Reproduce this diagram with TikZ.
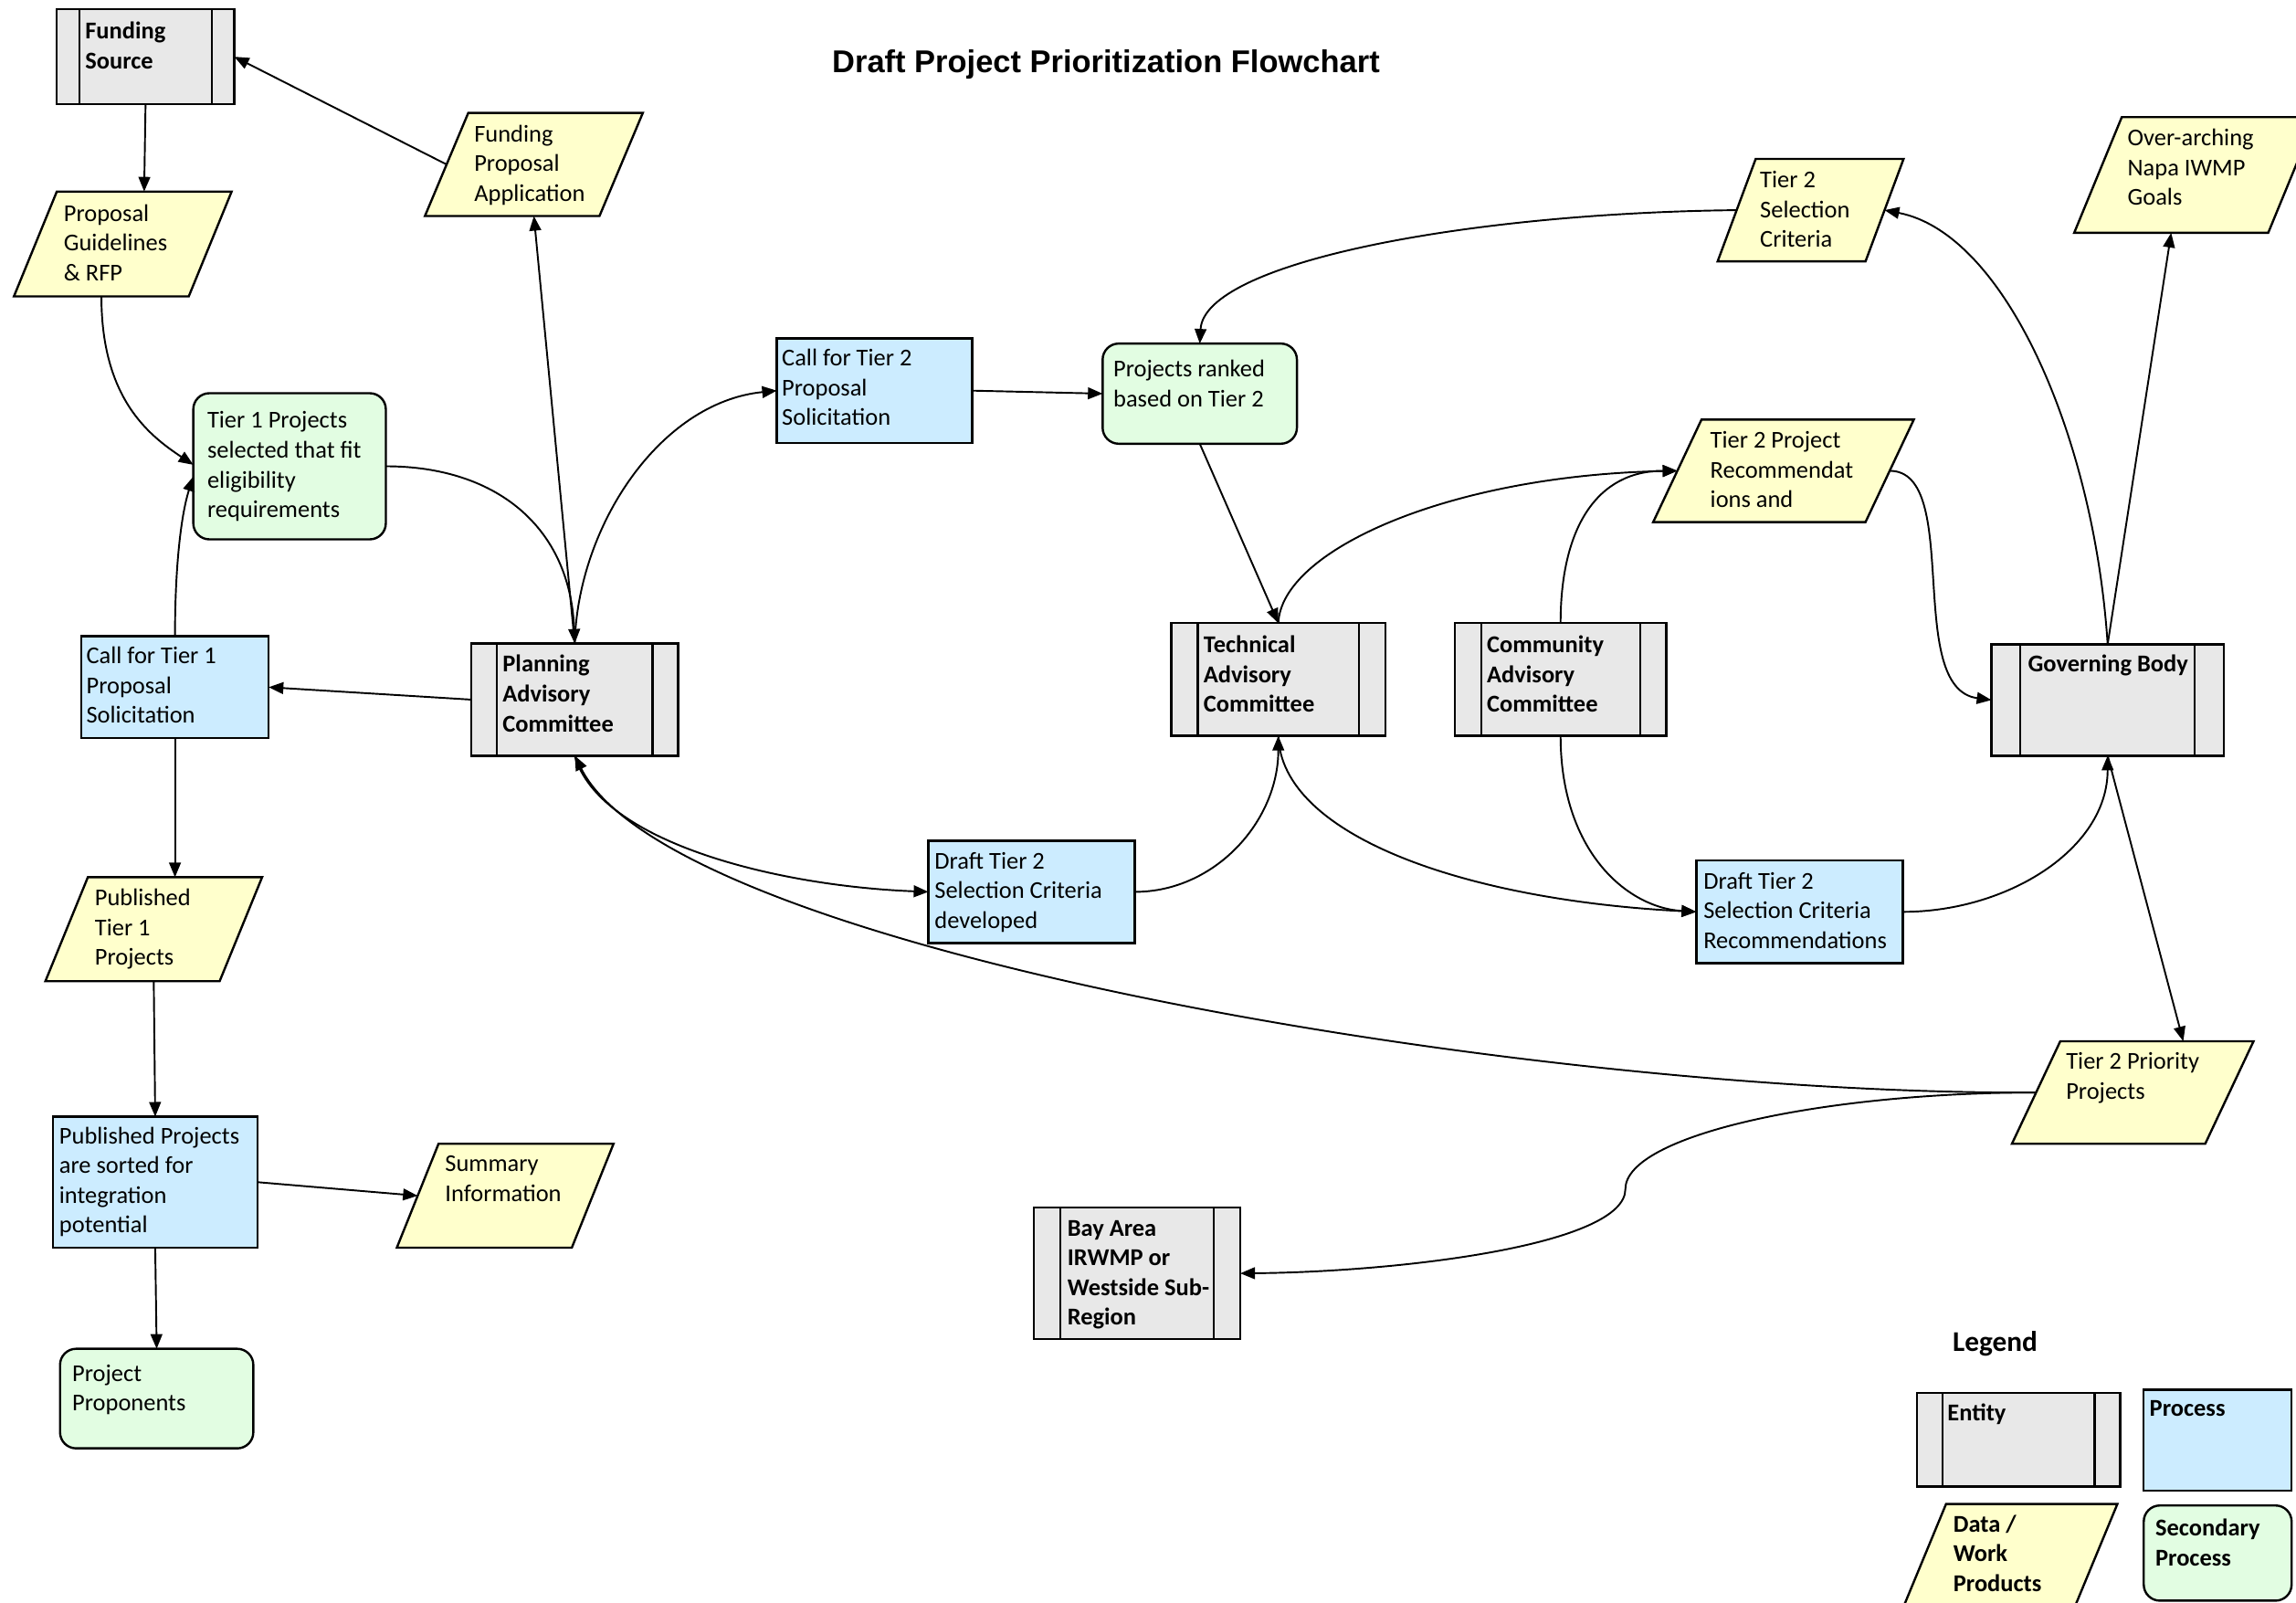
\documentclass[tikz,border=0pt]{standalone}
\usepackage{fontspec}
\setmainfont{Carlito}
\newfontfamily\titlefont{Liberation Sans}
\usetikzlibrary{arrows.meta}
\definecolor{entfill}{RGB}{232,232,232}
\definecolor{procfill}{RGB}{204,236,255}
\definecolor{secfill}{RGB}{226,253,226}
\definecolor{datafill}{RGB}{255,255,204}
% W, H, left pad, first-baseline offset, text
\newcommand\boxtxt[5]{\begin{minipage}[c][#2pt][t]{#1pt}\raggedright\leftskip=#3pt\relax\rule{0pt}{#4pt}#5\end{minipage}}
% name, x, y, W, H, slant, pad, baseline, text
\newcommand\datanode[9]{%
  \draw[datashape] ({#2+#6},#3) -- ({#2+#4},#3) -- ({#2+#4-#6},{#3+#5}) -- (#2,{#3+#5}) -- cycle;
  \node[txtnode] (#1) at (#2,#3) {\boxtxt{#4}{#5}{#7}{#8}{#9}};}
\begin{document}
\begin{tikzpicture}[x=1pt,y=-1pt,
  font=\fontsize{16.5pt}{20.3pt}\selectfont,
  base/.style={inner sep=0pt, outer sep=0pt, anchor=north west},
  entity/.style={base, draw, fill=entfill, line width=1.5pt,
    path picture={\draw[line width=1.5pt]
      ([xshift=#1pt]path picture bounding box.north west) -- ([xshift=#1pt]path picture bounding box.south west)
      ([xshift=-#1pt]path picture bounding box.north east) -- ([xshift=-#1pt]path picture bounding box.south east);}},
  process/.style={base, draw, fill=procfill, line width=1.5pt},
  secondary/.style={base, draw, fill=secfill, line width=1.5pt, rounded corners=11pt},
  datashape/.style={draw, fill=datafill, line width=1.5pt},
  txtnode/.style={base},
  conn/.style={line width=1.2pt, -{Triangle[length=10pt,width=8pt]}}
]
\path[fill=white, use as bounding box] (0,0) rectangle (1568,1094);

% title
\node[anchor=base] (title) at (755.3,49.6) {\titlefont\fontsize{21.5pt}{26pt}\selectfont\bfseries Draft Project Prioritization Flowchart};

% left column
\node[entity=15.3] (fs) at (38.8,6.4) {\boxtxt{121.2}{64.7}{19.4}{20.3}{\bfseries Funding\\Source}};
\datanode{pg}{9.5}{130.8}{148.7}{71.6}{29.3}{34.1}{20.2}{Proposal\\Guidelines\\\& RFP}
\datanode{fpa}{290.2}{77.1}{148.8}{70.4}{29.6}{33.7}{19.6}{Funding\\Proposal\\Application}
\node[secondary] (t1) at (132,268.5) {\boxtxt{131.5}{99.8}{9.6}{24}{Tier 1 Projects\\selected that fit\\eligibility\\requirements}};
\node[process] (ct1) at (55.5,434.5) {\boxtxt{128}{69.5}{3.5}{18.7}{Call for Tier 1\\Proposal\\Solicitation}};
\node[entity=17.3] (pac) at (322,439.5) {\boxtxt{141}{76.5}{21.3}{19.5}{\bfseries Planning\\Advisory\\Committee}};
\datanode{pt1}{31}{599}{148}{71}{29}{33.8}{19.4}{Published\\Tier 1\\Projects}
\node[process] (pp) at (36,762.5) {\boxtxt{140}{89.5}{4.5}{18.5}{Published Projects\\are sorted for\\integration\\potential}};
\datanode{sum}{271}{781}{148}{71}{28.5}{33}{19}{Summary\\Information}
\node[secondary] (ppr) at (41,921) {\boxtxt{132}{68}{8.4}{22.3}{Project\\Proponents}};

% middle
\node[process] (ct2) at (530.5,231) {\boxtxt{133.5}{71.5}{3.5}{19}{Call for Tier 2\\Proposal\\Solicitation}};
\node[secondary] (pr) at (753,234.6) {\boxtxt{132.7}{68.4}{7.4}{22.7}{Projects ranked\\based on Tier 2}};
\node[process] (dt2d) at (634,574) {\boxtxt{141}{70}{4.3}{19.4}{Draft Tier 2\\Selection Criteria\\developed}};
\node[entity=18] (tac) at (800,425.5) {\boxtxt{146}{77}{22}{20.3}{\bfseries Technical\\Advisory\\Committee}};
\node[entity=18] (cac) at (993.5,425.5) {\boxtxt{144.5}{77}{22}{20.3}{\bfseries Community\\Advisory\\Committee}};
\node[entity=18] (bay) at (706,824.5) {\boxtxt{141}{90}{23}{19.5}{\bfseries Bay Area\\IRWMP or\\Westside Sub-\\Region}};

% right
\datanode{t2sc}{1173}{108.5}{127}{70}{26}{29}{19.7}{Tier 2\\Selection\\Criteria}
\datanode{t2pr}{1129}{286.5}{178}{70}{33}{39}{19.5}{Tier 2 Project\\Recommendat\\ions and}
\datanode{over}{1416.5}{80}{165}{79}{32.5}{36.5}{19.5}{Over-arching\\Napa IWMP\\Goals}
\node[entity=19.8] (gb) at (1360,440) {\boxtxt{158.7}{76}{25}{19}{\bfseries Governing Body}};
\node[process] (dt2r) at (1158.4,587.5) {\boxtxt{141.2}{70.3}{5}{19.5}{Draft Tier 2\\Selection Criteria\\Recommendations}};
\datanode{t2pp}{1374}{711}{165}{70}{33}{37}{19.3}{Tier 2 Priority\\Projects}

% legend
\node[anchor=base west] (legend) at (1330,923) {\fontsize{19.5pt}{23pt}\selectfont\bfseries Legend};
\node[entity=17.6] (lent) at (1309,951) {\boxtxt{139}{64}{21}{19}{\bfseries Entity}};
\node[process] (lproc) at (1464,949) {\boxtxt{101}{69}{4}{18}{\bfseries Process}};
\datanode{ldata}{1300}{1027}{146}{70}{29}{34}{19}{\bfseries Data /\\Work\\Products}
\node[secondary] (lsec) at (1464,1028) {\boxtxt{101}{65}{8}{21}{\bfseries Secondary\\Process}};

% connectors
\draw[conn] (fs.south) -- ([xshift=14.6pt]pg.north);
\draw[conn] ([xshift=14.8pt]fpa.west) -- (fs.east);
\draw[conn] ([xshift=-14.6pt]pg.south) .. controls +(0,70) and +(-30,-20) .. ([yshift=1pt]t1.west);
\draw[conn] (ct1.north) .. controls +(0,-50) and +(-8,25) .. ([yshift=-7pt]t1.west);
\draw[conn] (t1.east) .. controls +(75,0) and +(-3,-80) .. (pac.north);
\draw[conn] (pac.north) -- (fpa.south);
\draw[conn] (pac.north) .. controls +(2,-80) and +(-80,8) .. (ct2.west);
\draw[conn] (ct2.east) -- (pr.west);
\draw[conn] (pr.south) -- (tac.north);
\draw[conn] ([xshift=13pt]t2sc.west) .. controls +(-186,2) and +(3,-55) .. (pr.north);
\draw[conn] (gb.north) .. controls +(-9,-140) and +(83,16) .. ([xshift=-13pt]t2sc.east);
\draw[conn] (gb.north) -- ([xshift=-16.25pt]over.south);
\draw[conn] (tac.north) .. controls +(2,-50) and +(-155,3) .. ([xshift=16.5pt]t2pr.west);
\draw[conn] (cac.north) .. controls +(0,-65) and +(-55,0) .. ([xshift=16.5pt]t2pr.west);
\draw[conn] ([xshift=-16.5pt]t2pr.east) .. controls +(50,0) and +(-60,-8) .. (gb.west);
\draw[conn] (pac.west) -- (ct1.east);
\draw[conn] (ct1.south) -- ([xshift=14.5pt]pt1.north);
\draw[conn] (pt1.south) -- (pp.north);
\draw[conn] (pp.east) -- ([xshift=14.25pt]sum.west);
\draw[conn] (pp.south) -- (ppr.north);
\draw[conn] (pac.south) .. controls +(17,59) and +(-104,-4) .. (dt2d.west);
\draw[conn] ([xshift=16.5pt]t2pp.west) .. controls +(-340,2) and +(67,134) .. (pac.south);
\draw[conn] (dt2d.east) .. controls +(55,0) and +(0,58) .. (tac.south);
\draw[conn] (tac.south) .. controls +(2,68) and +(-158,-8) .. (dt2r.west);
\draw[conn] (cac.south) .. controls +(0,78) and +(-48,-3) .. (dt2r.west);
\draw[conn] (dt2r.east) .. controls +(71,0) and +(0,64) .. (gb.south);
\draw[conn] (gb.south) -- ([xshift=34.5pt]t2pp.north);
\coordinate (bend) at (1110,812);
\draw[conn] ([xshift=16.5pt]t2pp.west) .. controls +(-145,0) and +(0,-37) .. (bend) .. controls +(0,38) and +(110,-1) .. (bay.east);
\end{tikzpicture}
\end{document}
